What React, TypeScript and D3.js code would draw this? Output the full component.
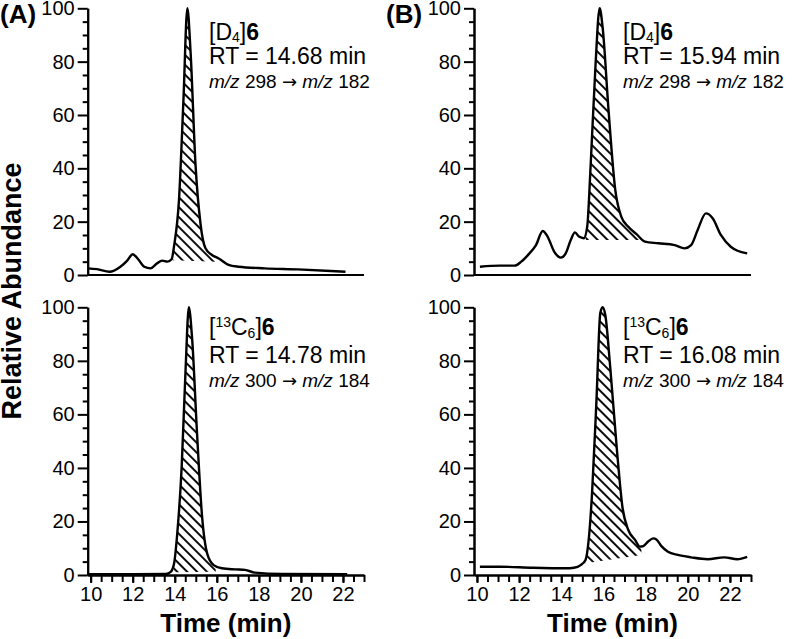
import * as d3 from 'd3';
import React, {useRef, useEffect} from 'react';

type Pt = [number, number];

// chromatograms: [time (min), relative abundance (%)]
const traceA_D4: Pt[] = [
  [9.86, 2.5], [10.3, 2.2], [10.9, 1.2], [11.4, 3.0], [11.75, 5.5], [12.0, 7.8], [12.25, 6.0],
  [12.55, 3.1], [12.85, 2.5], [13.15, 4.3], [13.4, 5.4], [13.65, 5.0], [13.85, 5.9], [13.97, 11],
  [14.2, 28], [14.41, 65], [14.6, 100], [14.75, 84], [14.99, 41], [15.22, 19.5], [15.46, 10],
  [15.77, 7.5], [16.09, 6.2], [16.56, 3.8], [17.03, 3.1], [18.28, 2.5], [19.85, 2.1], [21.42, 1.5],
  [22.12, 1.2],
];

const traceB_D4: Pt[] = [
  [10.14, 3.1], [11.08, 3.5], [11.79, 3.5], [12.1, 5], [12.49, 8.1], [12.8, 11.2], [13.12, 16.5],
  [13.35, 14.4], [13.67, 8.7], [13.98, 6.5], [14.21, 8.1], [14.45, 13.1], [14.65, 16], [14.84, 14.4],
  [15.07, 13.8], [15.23, 18.1], [15.39, 40.6], [15.62, 78], [15.82, 100], [15.96, 93], [16.24, 62],
  [16.56, 32], [16.84, 22], [17.18, 18.1], [17.57, 15.3], [17.97, 12.5], [18.6, 11.9], [19.38, 11.2],
  [19.85, 10], [20.16, 11.2], [20.47, 16.9], [20.86, 23.1], [21.18, 21.3], [21.57, 15], [22.04, 10.6],
  [22.36, 9.1], [22.82, 8.1],
];

const traceA_C13: Pt[] = [
  [9.86, 0.3], [12.0, 0.3], [13.58, 0.4], [13.81, 1.2], [13.97, 4.4], [14.12, 15.6], [14.33, 40.5],
  [14.52, 77.8], [14.67, 100], [14.83, 87.8], [15.06, 52.9], [15.3, 21.8], [15.54, 8.1], [15.85, 3.7],
  [16.24, 2.5], [16.87, 2.1], [17.34, 1.9], [17.81, 0.9], [19.1, 0.4], [22.2, 0.3],
];

const traceB_C13: Pt[] = [
  [10.14, 3.1], [11.08, 3.1], [12.64, 2.7], [14.21, 2.5], [14.6, 2.7], [14.92, 3.7], [15.15, 5.6],
  [15.3, 13.1], [15.46, 30.5], [15.67, 65.4], [15.85, 97.8], [15.96, 100], [16.09, 97], [16.32, 77.8],
  [16.64, 46.7], [16.9, 25.5], [17.18, 16.8], [17.5, 13.1], [17.73, 10.6], [17.89, 10.8], [18.12, 12.5],
  [18.36, 13.7], [18.51, 13.3], [18.75, 10.8], [19.06, 8.7], [19.53, 7.5], [20.16, 6.6], [20.94, 5.9],
  [21.73, 6.6], [22.35, 5.9], [22.82, 6.8],
];

// integration window: [t start, baseline at start, t end, baseline at end]
const windowA_D4 = [13.9, 5.5, 15.95, 5.0];
const windowB_D4 = [15.15, 13.1, 17.75, 13.1];
const windowA_C13 = [13.95, 1.0, 15.95, 1.2];
const windowB_C13 = [15.15, 4.4, 17.8, 7.5];

const retentionTimes = ['14.68', '15.94', '14.78', '16.08'];
const parentIons = ['298', '298', '300', '300'];
const productIons = ['182', '182', '184', '184'];
const panelLetters = ['(A)', '(B)'];

const xDomain = [9.86, 23];
const xMajor = d3.range(10, 23, 2);
const xMinor = d3.range(10, 23.01, 0.5);
const yMajor = d3.range(0, 101, 20);
const yMinor = d3.range(0, 101, 5);

const FONT = "'Liberation Sans', Arial, Helvetica, sans-serif";

const panels = [
  {trace: traceA_D4, win: windowA_D4, left: 87.7, right: 364, top: 8.3, bottom: 275, ticks: false, labelX: 209, heavy: false},
  {trace: traceB_D4, win: windowB_D4, left: 474, right: 751, top: 8.3, bottom: 275, ticks: false, labelX: 623, heavy: false},
  {trace: traceA_C13, win: windowA_C13, left: 87.7, right: 364, top: 307.3, bottom: 575, ticks: true, labelX: 209, heavy: true},
  {trace: traceB_C13, win: windowB_C13, left: 474, right: 751, top: 307.3, bottom: 575, ticks: true, labelX: 623, heavy: true},
];

const App = () => {
  const ref = useRef<SVGSVGElement>(null);

  useEffect(() => {
    const svg = d3.select(ref.current);
    svg.selectAll('*').remove();

    svg.append('rect').attr('width', 800).attr('height', 639).attr('fill', '#fff');

    const defs = svg.append('defs');
    const pat = defs.append('pattern')
      .attr('id', 'hatch')
      .attr('patternUnits', 'userSpaceOnUse')
      .attr('width', 7)
      .attr('height', 7)
      .attr('patternTransform', 'rotate(-45)');
    pat.append('line')
      .attr('x1', 1).attr('y1', 0).attr('x2', 1).attr('y2', 7)
      .attr('stroke', '#000').attr('stroke-width', 1.9);

    panels.forEach((p, i) => {
      const x = d3.scaleLinear().domain(xDomain).range([p.left, p.right]);
      const y = d3.scaleLinear().domain([0, 100]).range([p.bottom, p.top]);
      const g = svg.append('g');

      // hatched integration area
      const [t0, b0, t1, b1] = p.win;
      defs.append('clipPath').attr('id', 'clip' + i)
        .append('path')
        .attr('d', `M${x(t0)},${y(110)}L${x(t1)},${y(110)}L${x(t1)},${y(b1)}L${x(t0)},${y(b0)}Z`);

      const area = d3.area<Pt>()
        .x(d => x(d[0]))
        .y0(y(0))
        .y1(d => y(d[1]))
        .curve(d3.curveMonotoneX);
      g.append('path')
        .datum(p.trace)
        .attr('d', area)
        .attr('fill', 'url(#hatch)')
        .attr('clip-path', `url(#clip${i})`);

      // axes
      const styleAxis = (s: any) => {
        s.selectAll('line').attr('stroke', '#000').attr('stroke-width', 2);
        s.selectAll('path').attr('stroke', '#000').attr('stroke-width', 2);
        s.selectAll('text').attr('fill', '#000').style('font-family', FONT).style('font-size', '20px');
      };

      g.append('g')
        .attr('transform', `translate(${p.left},0)`)
        .call(d3.axisLeft(y).tickValues(yMinor.filter(v => v % 20 !== 0)).tickSize(5).tickSizeOuter(0).tickFormat(() => ''))
        .call(styleAxis);
      g.append('g')
        .attr('transform', `translate(${p.left},0)`)
        .call(d3.axisLeft(y).tickValues(yMajor).tickSize(10).tickSizeOuter(0).tickPadding(3).tickFormat(d3.format('d')))
        .call(styleAxis);

      if (p.ticks) {
        g.append('g')
          .attr('transform', `translate(0,${p.bottom})`)
          .call(d3.axisBottom(x).tickValues(xMinor).tickSize(7).tickSizeOuter(0).tickFormat(() => ''))
          .call(styleAxis);
        g.append('g')
          .attr('transform', `translate(0,${p.bottom})`)
          .call(d3.axisBottom(x).tickValues(xMajor).tickSize(8).tickSizeOuter(0).tickPadding(4).tickFormat(d3.format('d')))
          .call(styleAxis);
        g.append('text')
          .attr('x', (p.left + p.right) / 2)
          .attr('y', 632)
          .attr('text-anchor', 'middle')
          .style('font-family', FONT)
          .style('font-size', '26px')
          .style('font-weight', 'bold')
          .text('Time (min)');
      } else {
        g.append('line')
          .attr('x1', x.range()[0]).attr('x2', x.range()[1])
          .attr('y1', y(0)).attr('y2', y(0))
          .attr('stroke', '#000').attr('stroke-width', 2);
      }

      // trace
      const line = d3.line<Pt>()
        .x(d => x(d[0]))
        .y(d => y(d[1]))
        .curve(d3.curveMonotoneX);
      g.append('path')
        .datum(p.trace)
        .attr('d', line)
        .attr('fill', 'none')
        .attr('stroke', '#000')
        .attr('stroke-width', 2.4)
        .attr('stroke-linejoin', 'round');

      // annotation
      const ann = g.append('g').style('font-family', FONT).attr('fill', '#000');
      const t1El = ann.append('text')
        .attr('x', p.labelX)
        .attr('y', p.top + (p.heavy ? 28 : 31.5))
        .style('font-size', '23px');
      if (p.heavy) {
        t1El.append('tspan').text('[');
        t1El.append('tspan').attr('dy', -8).style('font-size', '14px').text('13');
        t1El.append('tspan').attr('dy', 8).text('C');
        t1El.append('tspan').attr('dy', 2.5).style('font-size', '14px').text('6');
        t1El.append('tspan').attr('dy', -2.5).text(']');
      } else {
        t1El.append('tspan').text('[D');
        t1El.append('tspan').attr('dy', 2.5).style('font-size', '14px').text('4');
        t1El.append('tspan').attr('dy', -2.5).text(']');
      }
      t1El.append('tspan').style('font-weight', 'bold').text('6');

      ann.append('text')
        .attr('x', p.labelX)
        .attr('y', p.top + 55.5)
        .style('font-size', '23px')
        .text(`RT = ${retentionTimes[i]} min`);

      const t3 = ann.append('text')
        .attr('x', p.labelX)
        .attr('y', p.top + 79.5)
        .style('font-size', '19px');
      t3.append('tspan').style('font-style', 'italic').text('m/z');
      t3.append('tspan').text(` ${parentIons[i]} `);
      t3.append('tspan').style('font-family', "'DejaVu Sans', sans-serif").style('font-size', '18px').text('\u2192');
      t3.append('tspan').text(' ');
      t3.append('tspan').style('font-style', 'italic').text('m/z');
      t3.append('tspan').text(` ${productIons[i]}`);
    });

    // panel letters
    panelLetters.forEach((l, i) => {
      svg.append('text')
        .attr('x', i === 0 ? 0 : 386)
        .attr('y', 23)
        .style('font-family', FONT)
        .style('font-size', '26px')
        .style('font-weight', 'bold')
        .text(l);
    });

    svg.append('text')
      .attr('transform', 'translate(21,291) rotate(-90)')
      .attr('text-anchor', 'middle')
      .style('font-family', FONT)
      .style('font-size', '27px')
      .style('font-weight', 'bold')
      .text('Relative Abundance');
  }, []);

  return (
    <svg ref={ref} width={800} height={639}
      style={{position: 'absolute', left: 0, top: 0, display: 'block'}} />
  );
};

export default App;
